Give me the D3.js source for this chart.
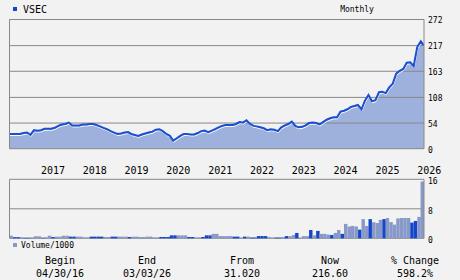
<!DOCTYPE html>
<html>
<head>
<meta charset="utf-8">
<script src="https://cdn.jsdelivr.net/npm/d3@7"></script>
<style>
body { margin: 0; background: #f2f2f2; }
#chart { width: 460px; height: 280px; }
text { font-family: 'DejaVu Sans Mono', monospace; fill: #000; }
</style>
</head>
<body>
<div id="chart"></div>
<script>
var id = 'chart';

// monthly closes, Apr 2016 .. Mar 2026
var startMonth = new Date(2016, 3, 1);
var prices = [31, 31, 31, 31, 33, 34, 29, 39, 38, 39, 42, 42, 42, 44, 48, 51, 52, 55, 49, 49,
	49, 51, 51, 52, 52, 50, 47, 44, 41, 37, 34, 31, 32, 34, 35, 31, 29, 27, 30, 32,
	34, 36, 40, 41, 37, 31, 27, 17, 22, 27, 31, 31, 30, 30, 33, 37, 38, 35, 38, 41,
	45, 48, 50, 50, 50, 52, 56, 55, 60, 52, 48, 47, 45, 43, 39, 41, 40, 37, 45, 49,
	52, 57, 48, 45, 46, 49, 54, 55, 54, 51, 56, 61, 64, 66, 66, 78, 80, 83, 88, 90,
	92, 83, 101, 113, 100, 102, 119, 120, 117, 129, 137, 158, 164, 168, 181, 182, 174, 214, 226, 217];

// volume / 1000, same months; volUp marks the darker bars
var volumes = [0.7, 0.7, 0.3, 0.3, 0.3, 0.15, 0.15, 0.25, 0.55, 0.55, 0.15, 0.3, 0.7, 0.35, 0.45, 0.45, 0.7, 0.7, 0.45, 0.45,
	0.45, 0.45, 0.25, 0.25, 0.45, 0.45, 0.45, 0.45, 0.35, 0.35, 0.45, 0.45, 0.45, 0.45, 0.45, 0.35, 0.45, 0.45, 0.35, 0.35,
	0.45, 0.45, 0.25, 0.25, 0.35, 0.35, 0.35, 0.8, 0.8, 0.8, 0.8, 0.8, 0.35, 0.35, 0.25, 0.25, 0.35, 0.8, 0.8, 1.2,
	1.2, 0.6, 0.6, 0.6, 0.6, 0.45, 0.45, 0.2, 0.45, 0.45, 0.2, 0.2, 0.6, 0.6, 0.6, 0.35, 0.2, 0.2, 0.2, 0.35,
	0.6, 0.6, 0.9, 1.45, 0.2, 0.6, 0.6, 2.25, 0.8, 2.0, 1.2, 1.2, 1.0, 0.9, 1.45, 2.25, 1.2, 3.9, 3.2, 3.35,
	3.2, 2.35, 5.2, 3.35, 5.2, 4.35, 4.15, 5.0, 5.2, 5.5, 4.4, 3.7, 5.4, 5.5, 5.5, 5.5, 4.25, 4.7, 5.8, 15.4];
var volUp = [0, 0, 1, 1, 0, 1, 1, 0, 0, 0, 1, 0, 0, 1, 0, 0, 0, 0, 1, 1,
	0, 0, 0, 0, 1, 1, 1, 1, 0, 0, 1, 1, 0, 0, 0, 1, 0, 0, 0, 0,
	0, 0, 0, 0, 1, 1, 1, 1, 1, 0, 0, 0, 1, 1, 0, 0, 1, 1, 1, 0,
	0, 0, 0, 0, 0, 1, 1, 0, 1, 0, 1, 1, 1, 1, 1, 0, 0, 1, 1, 0,
	1, 0, 0, 1, 0, 0, 0, 1, 0, 1, 0, 0, 0, 1, 0, 0, 1, 0, 0, 0,
	0, 1, 0, 0, 1, 0, 0, 0, 1, 0, 0, 0, 0, 0, 0, 0, 1, 1, 0, 0];

var priceTicks = [0, 54, 108, 163, 217, 272];
var volTicks = [0, 8, 16];
var years = [2017, 2018, 2019, 2020, 2021, 2022, 2023, 2024, 2025, 2026];

var summaryHeads = ['Begin', 'End', 'From', 'Now', '% Change'];
var summaryValues = ['04/30/16', '03/03/26', '31.020', '216.60', '598.2%'];

var months = prices.map(function(d, i) { return d3.timeMonth.offset(startMonth, i); });

var svg = d3.select('#' + id)
	.append('svg')
	.attr('width', 460)
	.attr('height', 280)
	.style('background-color', '#f2f2f2');

var x = d3.scaleTime()
	.domain([months[0], months[months.length - 1]])
	.range([9.5, 424]);
var y = d3.scaleLinear().domain([0, 272]).range([148.7, 19.5]);
var yv = d3.scaleLinear().domain([0, 16]).range([238.3, 179.3]);
var step = x(months[1]) - x(months[0]);

// header
svg.append('rect').attr('x', 13).attr('y', 7).attr('width', 4).attr('height', 4).style('fill', '#1446c8');
svg.append('text').attr('x', 23).attr('y', 12.5).style('font-size', '10px').text('VSEC');
svg.append('text').attr('x', 357).attr('y', 12).attr('text-anchor', 'middle').style('font-size', '8px').text('Monthly');

// price panel
var clip = svg.append('clipPath').attr('id', 'pclip');
clip.append('rect').attr('x', 9.5).attr('y', 19).attr('width', 414.5).attr('height', 130);

var area = d3.area()
	.x(function(d, i) { return x(months[i]); })
	.y0(y(0))
	.y1(function(d) { return y(d); });
var line = d3.line()
	.x(function(d, i) { return x(months[i]); })
	.y(function(d) { return y(d); });

svg.append('path').datum(prices).attr('d', area).style('fill', '#9eb1dd');

svg.selectAll('.pgrid').data(priceTicks).enter().append('line')
	.attr('class', 'pgrid')
	.attr('x1', 9.5).attr('x2', 424)
	.attr('y1', function(d) { return y(d); })
	.attr('y2', function(d) { return y(d); })
	.style('stroke', '#888').style('stroke-width', 1);

var pl = svg.append('g').attr('clip-path', 'url(#pclip)');
pl.append('path').datum(prices).attr('d', line)
	.attr('transform', 'translate(0.5,1.5)')
	.style('fill', 'none').style('stroke', '#fff').style('stroke-width', 1);
pl.append('path').datum(prices).attr('d', line)
	.style('fill', 'none').style('stroke', '#1a4fd0').style('stroke-width', 2);

svg.append('line').attr('x1', 9.5).attr('x2', 9.5).attr('y1', 19.5).attr('y2', 148.7).style('stroke', '#888');
svg.append('line').attr('x1', 424).attr('x2', 424).attr('y1', 19.5).attr('y2', 148.7).style('stroke', '#888');

svg.selectAll('.plab').data(priceTicks).enter().append('text')
	.attr('class', 'plab')
	.attr('x', 428)
	.attr('y', function(d) { return y(d) + 3.8; })
	.style('font-size', '8px')
	.text(function(d) { return d; });

svg.selectAll('.year').data(years).enter().append('text')
	.attr('class', 'year')
	.attr('x', function(d) { return x(new Date(d, 0, 1)); })
	.attr('y', 174)
	.style('font-size', '10px')
	.text(function(d) { return d; });

// volume panel
var vclip = svg.append('clipPath').attr('id', 'vclip');
vclip.append('rect').attr('x', 9.5).attr('y', 178).attr('width', 414.5).attr('height', 61);

svg.selectAll('.vgrid').data(volTicks).enter().append('line')
	.attr('class', 'vgrid')
	.attr('x1', 9.5).attr('x2', 424)
	.attr('y1', function(d) { return yv(d); })
	.attr('y2', function(d) { return yv(d); })
	.style('stroke', '#888');

svg.append('g').attr('clip-path', 'url(#vclip)')
	.selectAll('.bar').data(volumes).enter().append('rect')
	.attr('class', 'bar')
	.attr('x', function(d, i) { return x(months[i]) - step; })
	.attr('y', function(d) { return yv(d); })
	.attr('width', step)
	.attr('height', function(d) { return yv(0) - yv(d); })
	.style('fill', function(d, i) { return volUp[i] ? '#1446c8' : '#8898c8'; });

svg.append('line').attr('x1', 9.5).attr('x2', 9.5).attr('y1', 179.3).attr('y2', 238.3).style('stroke', '#888');
svg.append('line').attr('x1', 424).attr('x2', 424).attr('y1', 179.3).attr('y2', 238.3).style('stroke', '#888');

svg.selectAll('.vlab').data(volTicks).enter().append('text')
	.attr('class', 'vlab')
	.attr('x', 428)
	.attr('y', function(d) { return yv(d) + 5; })
	.style('font-size', '8px')
	.text(function(d) { return d; });

svg.append('rect').attr('x', 13).attr('y', 243).attr('width', 4).attr('height', 4).style('fill', '#8898c8');
svg.append('text').attr('x', 21).attr('y', 247.5).style('font-size', '8px').text('Volume/1000');

// summary
var cols = [60, 147, 242, 330, 415];
svg.selectAll('.head').data(summaryHeads).enter().append('text')
	.attr('x', function(d, i) { return cols[i]; })
	.attr('y', 263.5)
	.attr('text-anchor', 'middle')
	.style('font-size', '10px')
	.text(function(d) { return d; });
svg.selectAll('.val').data(summaryValues).enter().append('text')
	.attr('x', function(d, i) { return cols[i]; })
	.attr('y', 276.5)
	.attr('text-anchor', 'middle')
	.style('font-size', '10px')
	.text(function(d) { return d; });
</script>
</body>
</html>
